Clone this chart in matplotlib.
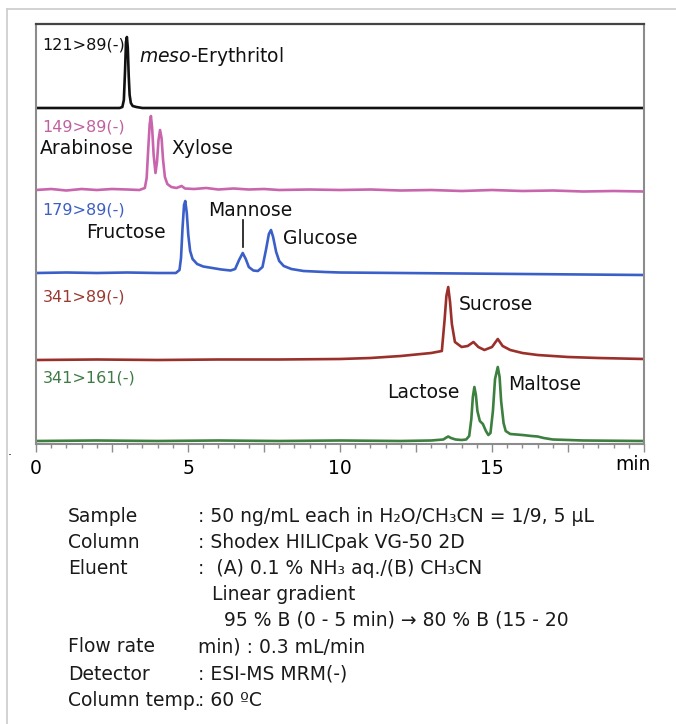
import matplotlib
matplotlib.use("Agg")
import matplotlib.pyplot as plt
from matplotlib.lines import Line2D

# ---------- data ----------
# retention time (min) and signal above each trace's own baseline
t_ery = [0, 1.0, 2.0, 2.75, 2.84, 2.89, 2.93, 2.96, 2.99, 3.02, 3.05, 3.08, 3.12, 3.18, 3.30, 3.50, 10, 20]
s_ery = [0, 0, 0, 0, 1, 8, 38, 66, 71, 60, 32, 13, 5, 2, 1, 0, 0, 0]

t_pen = [0, 0.5, 1.0, 1.5, 2.0, 2.5, 3.0, 3.4, 3.58, 3.64, 3.69, 3.74, 3.78, 3.82, 3.87, 3.93,
         3.98, 4.03, 4.08, 4.13, 4.18, 4.24, 4.32, 4.45, 4.62, 4.79, 4.90, 5.2, 5.6, 6.0, 6.5,
         7.0, 7.5, 8.0, 9.0, 10.0, 11.0, 12.0, 13.0, 14.0, 15.0, 16.0, 17.0, 18.0, 19.0, 20.0]
s_pen = [0, 1, -0.5, 1, 0, 1, 0.5, 0, 2, 12, 40, 66, 74, 62, 35, 17,
         28, 50, 60, 52, 30, 13, 6, 3, 2, 4, 1.5, 1, 2, 0.5, 1.5,
         0.5, 1, 0, 0.5, 0, 0.5, -0.5, 0, -1, 0, -1, -0.5, -1.5, -1, -1.5]

t_hex = [0, 1, 2, 3, 4, 4.6, 4.72, 4.77, 4.82, 4.87, 4.91, 4.96, 5.01, 5.07, 5.15, 5.3, 5.5, 5.8,
         6.1, 6.4, 6.55, 6.68, 6.80, 6.90, 7.0, 7.15, 7.3, 7.45, 7.57, 7.66, 7.73, 7.8, 7.9,
         8.0, 8.15, 8.4, 8.8, 9.5, 10, 12, 14, 16, 18, 20]
s_hex = [0, 0.5, 0, 0.5, 0, 0, 3, 15, 45, 68, 72, 60, 38, 22, 14, 9, 6.5, 5,
         3.5, 2.5, 4, 13, 20, 14, 6, 2.5, 2, 6, 24, 39, 43, 36, 21,
         12, 7, 4, 2, 1, 0.5, 0, -0.5, -1, -1.5, -2]

t_suc = [0, 2, 4, 6, 8, 10, 11, 12, 13, 13.35, 13.44, 13.50, 13.56, 13.62, 13.68, 13.78, 14.0,
         14.2, 14.39, 14.55, 14.75, 15.0, 15.19, 15.35, 15.6, 16.0, 16.5, 17.5, 18.5, 20]
s_suc = [0, 0.5, 0, 0.5, 0.5, 1, 2, 4, 7, 9, 40, 64, 73, 58, 36, 18, 13,
         14, 18, 13, 10, 13, 21, 14, 10, 7, 5, 3, 2, 1]

t_dis = [0, 2, 4, 6, 8, 10, 12, 13.0, 13.4, 13.5, 13.56, 13.65, 13.8, 14.0, 14.15, 14.25, 14.32,
         14.37, 14.42, 14.47, 14.52, 14.6, 14.7, 14.8, 14.88, 14.95, 15.03, 15.1, 15.19, 15.25,
         15.3, 15.38, 15.45, 15.6, 15.8, 16.0, 16.3, 16.5, 16.7, 17.0, 17.5, 18, 20]
s_dis = [0, 0.5, 0, 0.5, 0, 0.5, 0, 0.5, 1.5, 3.5, 4.5, 3, 1.5, 1, 1.5, 5, 22,
         44, 54, 46, 30, 20, 17, 10, 6, 8, 30, 62, 74, 64,
         40, 18, 10, 7, 6.5, 6, 5, 4.5, 3, 1.5, 1, 0.5, 0]

traces = [(t_ery, s_ery), (t_pen, s_pen), (t_hex, s_hex), (t_suc, s_suc), (t_dis, s_dis)]
mrm_labels = ["121>89(-)", "149>89(-)", "179>89(-)", "341>89(-)", "341>161(-)"]
line_colors = ["#111111", "#c965ad", "#3b5fc9", "#9b302b", "#3c7f3e"]
label_colors = ["#111111", "#c0619f", "#3d5fc4", "#9a3a32", "#3f7a45"]
offsets = [336, 254, 171, 84, 3]

peak_names = ["$\\mathit{meso}$-Erythritol", "Arabinose", "Xylose", "Fructose", "Mannose",
              "Glucose", "Sucrose", "Lactose", "Maltose"]
peak_label_xy = [(3.39, 388), (0.13, 295), (4.44, 295), (1.64, 212), (5.66, 234),
                 (8.13, 206), (13.91, 139), (11.55, 51), (15.53, 59)]

cond_names = ["Sample", "Column", "Eluent", "", "", "Flow rate", "Detector", "Column temp."]
cond_values = [": 50 ng/mL each in H\u2082O/CH\u2083CN = 1/9, 5 \u03bcL",
               ": Shodex HILICpak VG-50 2D",
               ":  (A) 0.1 % NH\u2083 aq./(B) CH\u2083CN",
               "Linear gradient",
               "  95 % B (0 - 5 min) \u2192 80 % B (15 - 20",
               "min) : 0.3 mL/min",
               ": ESI-MS MRM(-)",
               ": 60 \u00baC"]

# ---------- figure ----------
W, H = 676, 724
fig = plt.figure(figsize=(W / 100, H / 100), dpi=100)

def fx(px):
    return px / W

def fy(py):
    return 1 - py / H

# light card frame
fig.add_artist(Line2D([fx(7), 1], [fy(9), fy(9)], color="#cfcfcf", lw=1.3))
fig.add_artist(Line2D([fx(7), fx(7)], [fy(9), 0], color="#cfcfcf", lw=1.3))

ax = fig.add_axes([fx(36), fy(444), fx(644) - fx(36), fy(24) - fy(444)])
ax.set_xlim(0, 20)
ax.set_ylim(0, 420)

for (t, s), off, c in zip(traces, offsets, line_colors):
    ax.plot(t, [v + off for v in s], color=c, lw=1.9, solid_joinstyle="round")

for lab, c, off in zip(mrm_labels, label_colors, offsets):
    ax.text(0.22, off + 63, lab, color=c, fontsize=11.5, ha="left", va="center")

for name, (x, y) in zip(peak_names, peak_label_xy):
    ax.text(x, y, name, color="#111111", fontsize=13.5, ha="left", va="center")

# marker under Mannose
ax.plot([6.81, 6.81], [197, 224], color="#111111", lw=1.2)

for side in ["left", "right", "bottom"]:
    ax.spines[side].set_color("#8c8c8c")
    ax.spines[side].set_linewidth(1.5)
ax.spines["top"].set_color("#444444")
ax.spines["top"].set_linewidth(1.6)

ax.set_yticks([])
major = [0, 2.5, 5, 7.5, 10, 12.5, 15, 17.5, 20]
ax.set_xticks(major)
ax.set_xticklabels(["0", "", "5", "", "10", "", "15", "", ""])
ax.set_xticks([i * 0.5 for i in range(41)], minor=True)
ax.tick_params(axis="x", which="major", length=6, width=1, color="#8c8c8c",
               labelsize=13.5, pad=5)
ax.tick_params(axis="x", which="minor", length=3, width=1, color="#8c8c8c")
ax.text(19.62, -20, "min", fontsize=13.5, ha="center", va="center", clip_on=False)

fig.text(fx(8), fy(452), ".", fontsize=9, ha="left", va="center")

# conditions block
row_y = [516, 542, 568, 594, 620, 647, 674, 700]
for name, val, y in zip(cond_names, cond_values, row_y):
    if name:
        fig.text(fx(68), fy(y), name, fontsize=13.5, ha="left", va="center", color="#1a1a1a")
    x0 = 212 if val.startswith("Linear") or val.startswith("  95") else 198
    fig.text(fx(x0), fy(y), val, fontsize=13.5, ha="left", va="center", color="#1a1a1a")

fig.savefig("out.png", dpi=100)
